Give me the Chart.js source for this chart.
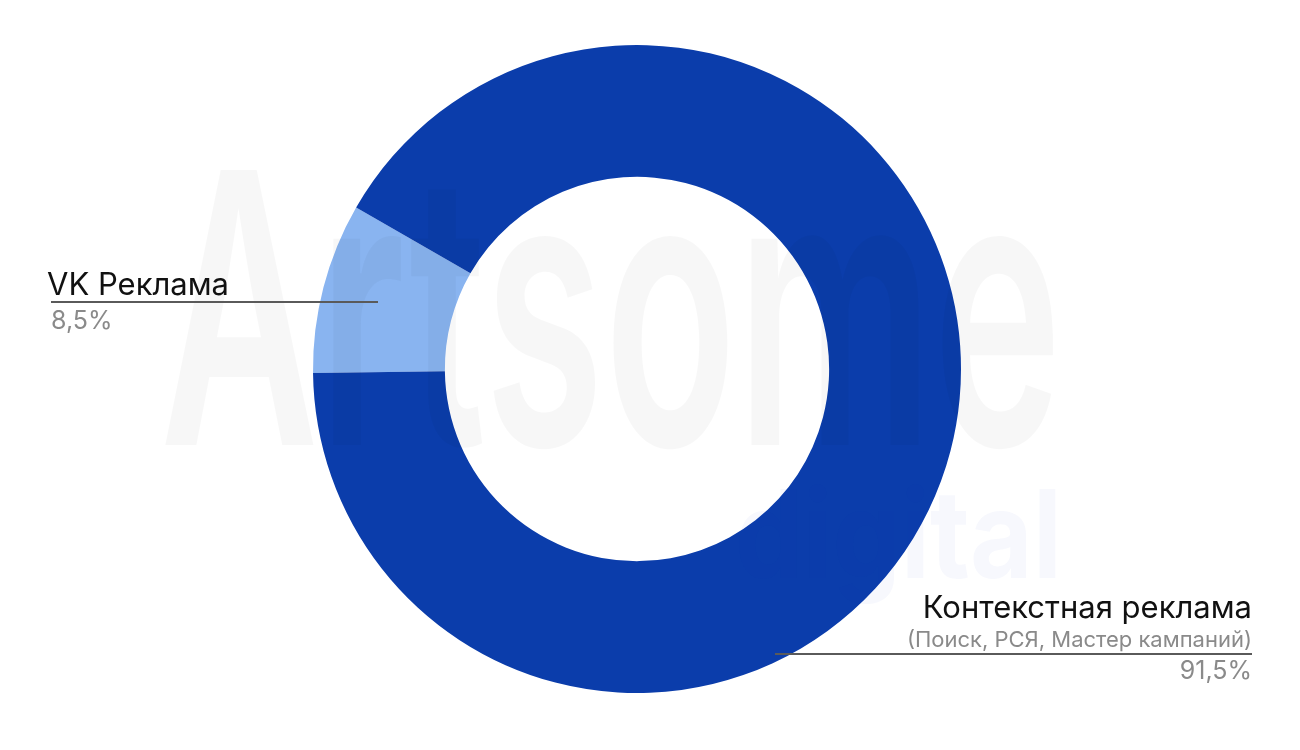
<!DOCTYPE html>
<html>
<head>
<meta charset="utf-8">
<script src="https://cdn.jsdelivr.net/npm/chart.js@4.4.0/dist/chart.umd.min.js"></script>
<style>
    html, body { margin: 0; padding: 0; background: #fff; }
    #wrap { position: relative; width: 1300px; height: 750px; overflow: hidden; font-family: Inter, "Noto Sans", sans-serif; }
    #chart { position: absolute; left: 0; top: 0; }
    .mark { position: absolute; white-space: nowrap; line-height: 1; pointer-events: none; transform-origin: 0 0; }
    .lbl { position: absolute; white-space: nowrap; line-height: 1; }
    .rule { position: absolute; height: 2px; background: #5a5a5a; }
</style>
</head>
<body>
<div id="wrap">
    <canvas id="chart" width="1300" height="750"></canvas>
    <div id="wm1" class="mark">Artsome</div>
    <div id="wm2" class="mark">digital</div>
    <div id="labels"></div>
</div>
<script>
const categories = ["VK Реклама", "Контекстная реклама"];
const subtitles = ["", "(Поиск, РСЯ, Мастер кампаний)"];
const shares = [8.5, 91.5];
const shareLabels = ["8,5%", "91,5%"];
const colors = ["#89b4f0", "#0b3dab"];

document.addEventListener("DOMContentLoaded", function () {
    const ctx = document.getElementById("chart").getContext("2d");

    new Chart(ctx, {
        type: "doughnut",
        data: {
            labels: categories,
            datasets: [{
                data: shares,
                backgroundColor: colors,
                borderWidth: 0,
                hoverOffset: 0
            }]
        },
        options: {
            responsive: false,
            animation: false,
            rotation: 269.3,
            cutout: "59.3%",
            layout: { padding: { left: 313, right: 339, top: 45, bottom: 57 } },
            plugins: {
                legend: { display: false },
                tooltip: { enabled: false }
            }
        }
    });

    // labels + leader lines
    const labels = document.getElementById("labels");
    function addText(text, size, color, baseline, x, alignRight) {
        const d = document.createElement("div");
        d.className = "lbl";
        d.textContent = text;
        d.style.fontSize = size + "px";
        d.style.color = color;
        d.style.top = (baseline - 0.863 * size) + "px";
        if (alignRight) d.style.right = (1300 - x) + "px";
        else d.style.left = x + "px";
        labels.appendChild(d);
    }
    function addRule(x1, x2, y) {
        const r = document.createElement("div");
        r.className = "rule";
        r.style.left = x1 + "px";
        r.style.width = (x2 - x1) + "px";
        r.style.top = (y - 1) + "px";
        labels.appendChild(r);
    }

    // VK
    addText(categories[0], 31, "#111", 295, 47, false);
    addRule(51, 378, 302);
    addText(shareLabels[0], 25, "#8a8a8a", 330, 51, false);

    // Context
    addText(categories[1], 31, "#111", 618, 1252, true);
    addText(subtitles[1], 22, "#8a8a8a", 647, 1252, true);
    addRule(775, 1252, 654);
    addText(shareLabels[1], 25, "#8a8a8a", 680, 1252, true);

    // watermark
    function fitMark(el, size, weight, color, x1, x2, baseline) {
        el.style.fontSize = size + "px";
        el.style.fontWeight = weight;
        el.style.color = color;
        el.style.left = x1 + "px";
        el.style.top = (baseline - 0.863 * size) + "px";
        const w = el.getBoundingClientRect().width;
        el.style.transform = "scaleX(" + ((x2 - x1) / w) + ")";
    }
    fitMark(document.getElementById("wm1"), 378, 600, "rgba(0,0,0,0.032)", 160, 1062, 445);
    fitMark(document.getElementById("wm2"), 122, 700, "rgba(30,60,200,0.035)", 735, 1062, 578);
});
</script>
</body>
</html>
